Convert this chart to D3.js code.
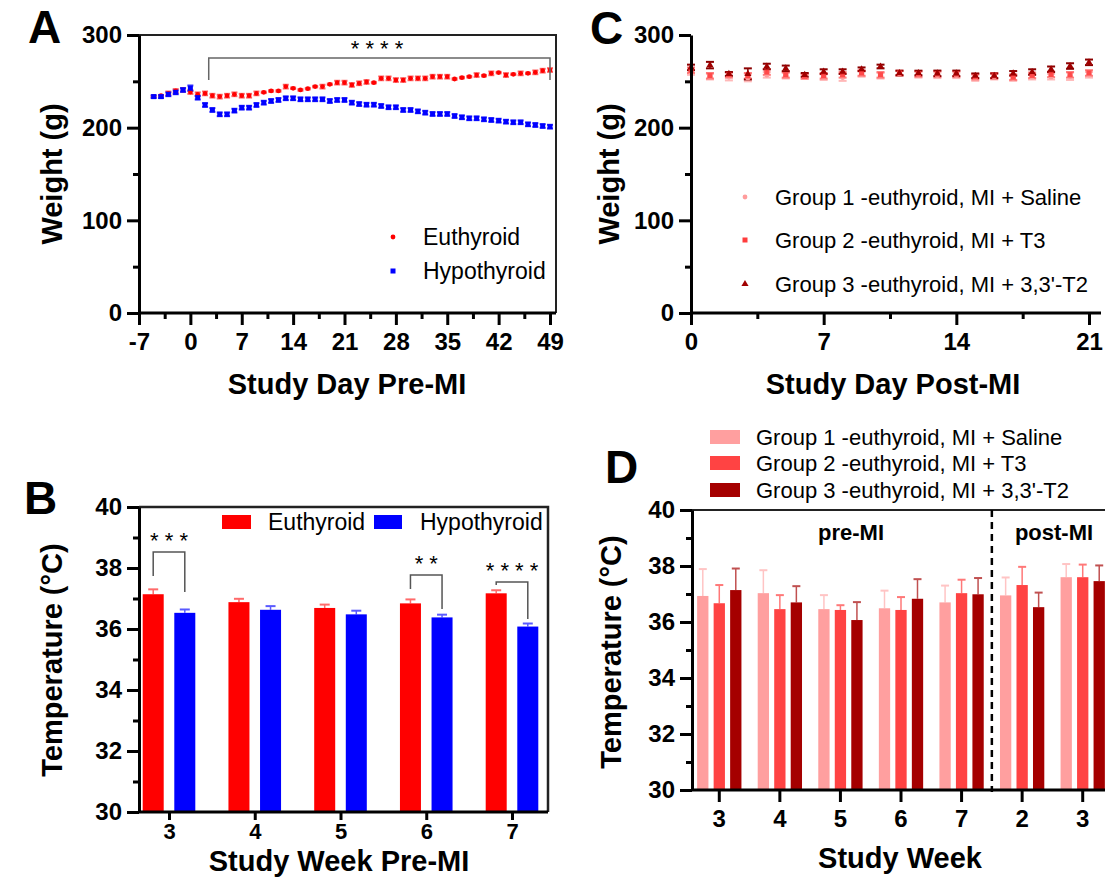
<!DOCTYPE html>
<html>
<head>
<meta charset="utf-8">
<script src="https://cdn.jsdelivr.net/npm/d3@7"></script>
<style>
  body { margin: 0; background: #fff; }
  svg { font-family: Arial, "Liberation Sans", sans-serif; }
</style>
</head>
<body>
<svg width="1105" height="878"></svg>
<script>
// ---- panel A: weight pre-MI ----
const daysPre = [-5,-4,-3,-2,-1,0,1,2,3,4,5,6,7,8,9,10,11,12,13,14,15,16,17,18,19,20,21,22,23,24,
  25,26,27,28,29,30,31,32,33,34,35,36,37,38,39,40,41,42,43,44,45,46,47,48,49];
const euthyroidWeight = [233.5,234.5,237,239.6,240.7,238.5,236,237,234.5,233.5,234.5,236,234.5,234.5,237,
  238.1,239.6,239.6,244.3,242.5,240.7,242.1,244.3,244.3,246.8,248.6,248.6,246.1,247.9,249.3,248.6,253.2,
  253.2,251.4,251.4,253.2,253.2,253.2,255,255,255,252.5,254,255,256.8,256.1,258.6,259.4,256.8,257.6,
  258.6,258.6,259.7,261.5,262.2];
const euthyroidSem = [0.8,0.8,2,2,2,2,2,2,2,2,2,2,2,2,2,0.8,0.8,0.8,2,0.8,0.8,0.8,0.8,2,0.8,2,2,2,2,2,
  0.8,2,2,2,2,2,2,2,2,2,2,0.8,0.8,0.8,2,0.8,2,0.8,2,0.8,2,0.8,2,2,2];
const hypothyroidWeight = [233.5,233.5,236,238.1,240.7,242.5,232.4,224.5,219.1,214.4,214.4,218.4,221.6,
  221.6,224.5,227,228.8,229.9,231.7,231.7,230.6,230.6,230.6,230.6,228.8,229.9,229.9,227,225.5,224.8,
  224.8,223.4,222,222,219.1,219.1,217.6,216.2,214.8,214.8,214.8,212.6,211.2,210.1,210.1,209,208.3,
  207.6,206.5,205.8,205.8,203.6,202.9,201.8,201.1];
const hypothyroidSem = [1.5,1.5,2,2,2,3,2,2,2,2,2,2,2,2,2,2,2,2,2,2,2,2,2,2,2,2,2,2,2,2,2,2,2,2,2,2,
  2,2,2,2,2,2,2,2,2,2,2,2,2,2,2,2,2,2,2];

// ---- panel C: weight post-MI ----
const daysPost = [0,1,2,3,4,5,6,7,8,9,10,11,12,13,14,15,16,17,18,19,20,21];
const group1Weight = [260,255,255,254,257,256,255,254.5,254.5,258,256,258.5,257,256.5,256.5,253.5,255,253.5,255,255,255.5,257];
const group2Weight = [262,256,257,256,260,257,255.5,256,257,259,257,259,258,258,258,255,256,254.5,256.5,257.5,257,259];
const group3Weight = [265,267.5,258,258,266,264,257,260.5,260.5,263,266,259,259,258.6,258.6,256,256,258.6,260,263,266.5,270.5];
const group1WeightSem = [3,3,4,4,3,3,2.5,3,4,3,3,2.5,3,3,3,3,3,3,3,3,4,3];
const group2WeightSem = [3,3,3,3,3,3,2.5,3,3,3,3,2.5,3,3,3,3,3,3,3,3,3,3];
const group3WeightSem = [3,3.5,2,6,3,3,2,2.5,2.5,2,2,2.5,2.5,3,3,2.5,2.5,2.5,3,3,3,3];

// ---- panel B: temperature pre-MI ----
const weeksB = ["3","4","5","6","7"];
const euthyroidTemp = [37.14,36.88,36.69,36.84,37.17];
const euthyroidTempSem = [0.16,0.11,0.11,0.13,0.10];
const hypothyroidTemp = [36.53,36.63,36.48,36.38,36.08];
const hypothyroidTempSem = [0.11,0.12,0.12,0.09,0.10];

// ---- panel D: temperature by group ----
const weeksD = ["3","4","5","6","7","2","3"];
const group1Temp = [36.93,37.03,36.46,36.49,36.70,36.95,37.60];
const group2Temp = [36.67,36.46,36.43,36.43,37.03,37.32,37.60];
const group3Temp = [37.14,36.70,36.07,36.83,36.99,36.53,37.46];
const group1TempSem = [0.96,0.82,0.50,0.63,0.60,0.64,0.47];
const group2TempSem = [0.65,0.50,0.17,0.46,0.48,0.65,0.45];
const group3TempSem = [0.77,0.58,0.64,0.70,0.58,0.52,0.56];

const groupNames = ["Group 1 -euthyroid, MI + Saline", "Group 2 -euthyroid, MI + T3", "Group 3 -euthyroid, MI + 3,3'-T2"];

let svg = d3.select('svg');
const FONT = 'Arial, "Liberation Sans", sans-serif';

function styleAxis(g, size) {
  g.attr("font-family", FONT)
   .attr("font-size", size || 24)
   .attr("font-weight", "bold");
  g.selectAll("path.domain").attr("stroke", "#000").attr("stroke-width", 3);
  g.selectAll(".tick line").attr("stroke", "#000").attr("stroke-width", 3);
  g.selectAll(".tick text").attr("fill", "#000");
}

function axisTitle(text, x, y, rotate) {
  svg.append("text")
     .attr("transform", "translate(" + x + "," + y + ")" + (rotate ? " rotate(-90)" : ""))
     .attr("text-anchor", "middle")
     .attr("font-family", FONT)
     .attr("font-size", 29)
     .attr("font-weight", "bold")
     .text(text);
}

function panelLetter(text, x, y) {
  svg.append("text")
     .attr("x", x).attr("y", y)
     .attr("font-family", FONT)
     .attr("font-size", 46)
     .attr("font-weight", "bold")
     .text(text);
}

function errorBars(g, xs, ys, sems, xScale, yScale, color, capW, upOnly) {
  xs.forEach((d, i) => {
    let x = xScale(d);
    let top = yScale(ys[i] + sems[i]);
    let bot = upOnly ? yScale(ys[i]) : yScale(ys[i] - sems[i]);
    g.append("line").attr("x1", x).attr("x2", x).attr("y1", top).attr("y2", bot)
     .attr("stroke", color).attr("stroke-width", 1.5);
    g.append("line").attr("x1", x - capW / 2).attr("x2", x + capW / 2).attr("y1", top).attr("y2", top)
     .attr("stroke", color).attr("stroke-width", 2);
    if (!upOnly) {
      g.append("line").attr("x1", x - capW / 2).attr("x2", x + capW / 2).attr("y1", bot).attr("y2", bot)
       .attr("stroke", color).attr("stroke-width", 2);
    }
  });
}

function drawPanelA() {
  let xScale = d3.scaleLinear().domain([-7, 49]).range([139, 550]);
  let yScale = d3.scaleLinear().domain([0, 300]).range([313, 35]);

  // frame
  svg.append("path")
     .attr("d", "M139,35 H556 V313")
     .attr("fill", "none").attr("stroke", "#222").attr("stroke-width", 2);

  let g = svg.append("g");
  errorBars(g, daysPre, euthyroidWeight, euthyroidSem, xScale, yScale, "#ff6060", 6, false);
  errorBars(g, daysPre, hypothyroidWeight, hypothyroidSem, xScale, yScale, "#3030ff", 6, false);

  g.selectAll(".eu").data(daysPre).enter().append("circle")
   .attr("cx", d => xScale(d))
   .attr("cy", (d, i) => yScale(euthyroidWeight[i]))
   .attr("r", 2.4).attr("fill", "#ff0000");
  g.selectAll(".hy").data(daysPre).enter().append("rect")
   .attr("x", d => xScale(d) - 2.5)
   .attr("y", (d, i) => yScale(hypothyroidWeight[i]) - 2.5)
   .attr("width", 5).attr("height", 5).attr("fill", "#0000ff");

  // axes
  let yAxis = svg.append("g").attr("transform", "translate(139,0)")
     .call(d3.axisLeft(yScale).tickValues([0, 100, 200, 300]).tickSize(12).tickSizeOuter(0).tickPadding(5));
  styleAxis(yAxis);
  let yMinor = svg.append("g").attr("transform", "translate(139,0)")
     .call(d3.axisLeft(yScale).tickValues([50, 150, 250]).tickSize(6).tickFormat(""));
  styleAxis(yMinor);
  yMinor.select("path.domain").remove();

  let xAxis = svg.append("g").attr("transform", "translate(0,313)")
     .call(d3.axisBottom(xScale).tickValues([-7, 0, 7, 14, 21, 28, 35, 42, 49])
       .tickFormat(d => String(d)).tickSize(12).tickSizeOuter(0).tickPadding(8));
  styleAxis(xAxis);
  xAxis.select("path.domain").attr("d", "M139,0H556");
  let xMinor = svg.append("g").attr("transform", "translate(0,313)")
     .call(d3.axisBottom(xScale).tickValues([-3.5, 3.5, 10.5, 17.5, 24.5, 31.5, 38.5, 45.5]).tickSize(6).tickFormat(""));
  styleAxis(xMinor);
  xMinor.select("path.domain").remove();

  // significance bracket
  svg.append("path")
     .attr("d", "M" + xScale(2.5) + ",80 V58 H" + xScale(49) + " V80")
     .attr("fill", "none").attr("stroke", "#666").attr("stroke-width", 1.5);
  svg.append("text").attr("x", 377).attr("y", 56).attr("text-anchor", "middle")
     .attr("font-family", FONT).attr("font-size", 22).text("* * * *");

  // legend
  svg.append("circle").attr("cx", 393).attr("cy", 237).attr("r", 2.4).attr("fill", "#ff0000");
  svg.append("rect").attr("x", 390.5).attr("y", 268.5).attr("width", 5).attr("height", 5).attr("fill", "#0000ff");
  svg.append("text").attr("x", 423).attr("y", 245).attr("font-family", FONT).attr("font-size", 23).text("Euthyroid");
  svg.append("text").attr("x", 423).attr("y", 279).attr("font-family", FONT).attr("font-size", 23).text("Hypothyroid");

  axisTitle("Weight (g)", 62, 174, true);
  axisTitle("Study Day Pre-MI", 347, 394, false);
  panelLetter("A", 28, 43);
}

function drawPanelC() {
  let xScale = d3.scaleLinear().domain([0, 21]).range([691, 1089]);
  let yScale = d3.scaleLinear().domain([0, 300]).range([313, 35]);
  let colors = ["#ff9c9c", "#ff3c3c", "#a00000"];
  let errColors = ["#ffb8b8", "#ff7a7a", "#8b0000"];
  let values = [group1Weight, group2Weight, group3Weight];
  let sems = [group1WeightSem, group2WeightSem, group3WeightSem];

  let g = svg.append("g");
  values.forEach((vals, k) => {
    errorBars(g, daysPost, vals, sems[k], xScale, yScale, errColors[k], 8, false);
  });
  g.selectAll(".g1").data(daysPost).enter().append("circle")
   .attr("cx", d => xScale(d)).attr("cy", (d, i) => yScale(group1Weight[i]))
   .attr("r", 2.6).attr("fill", colors[0]);
  g.selectAll(".g2").data(daysPost).enter().append("rect")
   .attr("x", d => xScale(d) - 2.6).attr("y", (d, i) => yScale(group2Weight[i]) - 2.6)
   .attr("width", 5.2).attr("height", 5.2).attr("fill", colors[1]).attr("opacity", 0.85);
  let tri = d3.symbol().type(d3.symbolTriangle).size(22);
  g.selectAll(".g3").data(daysPost).enter().append("path")
   .attr("d", tri)
   .attr("transform", (d, i) => "translate(" + xScale(d) + "," + yScale(group3Weight[i]) + ")")
   .attr("fill", colors[2]);

  let yAxis = svg.append("g").attr("transform", "translate(691,0)")
     .call(d3.axisLeft(yScale).tickValues([0, 100, 200, 300]).tickSize(12).tickSizeOuter(0).tickPadding(5));
  styleAxis(yAxis);
  let yMinor = svg.append("g").attr("transform", "translate(691,0)")
     .call(d3.axisLeft(yScale).tickValues([50, 150, 250]).tickSize(6).tickFormat(""));
  styleAxis(yMinor);
  yMinor.select("path.domain").remove();

  let xAxis = svg.append("g").attr("transform", "translate(0,313)")
     .call(d3.axisBottom(xScale).tickValues([0, 7, 14, 21]).tickSize(12).tickSizeOuter(0).tickPadding(8));
  styleAxis(xAxis);
  xAxis.select("path.domain").attr("d", "M691,0H1101");
  let xMinor = svg.append("g").attr("transform", "translate(0,313)")
     .call(d3.axisBottom(xScale).tickValues([3.5, 10.5, 17.5]).tickSize(6).tickFormat(""));
  styleAxis(xMinor);
  xMinor.select("path.domain").remove();

  // legend
  let ly = [197, 240, 284];
  svg.append("circle").attr("cx", 745).attr("cy", ly[0]).attr("r", 2.4).attr("fill", colors[0]);
  svg.append("rect").attr("x", 742.5).attr("y", ly[1] - 2.5).attr("width", 5).attr("height", 5).attr("fill", colors[1]);
  svg.append("path").attr("d", tri).attr("transform", "translate(745," + ly[2] + ")").attr("fill", colors[2]);
  groupNames.forEach((name, i) => {
    svg.append("text").attr("x", 775).attr("y", ly[i] + 8)
       .attr("font-family", FONT).attr("font-size", 22).text(name);
  });

  axisTitle("Weight (g)", 619, 174, true);
  axisTitle("Study Day Post-MI", 893, 394, false);
  panelLetter("C", 590, 44);
}

function drawPanelB() {
  let xScale = d3.scalePoint().domain(weeksB).range([169, 512]);
  let inner = d3.scaleBand().domain(["eu", "hy"]).range([-26.3, 26.3]).paddingInner(0.335).paddingOuter(0);
  let yScale = d3.scaleLinear().domain([30, 40]).range([812, 507]);
  let bw = inner.bandwidth();

  svg.append("path")
     .attr("d", "M139,507 H548 V812")
     .attr("fill", "none").attr("stroke", "#222").attr("stroke-width", 2.5);

  let series = [
    { key: "eu", vals: euthyroidTemp, sem: euthyroidTempSem, color: "#ff0000", err: "#ff6a6a" },
    { key: "hy", vals: hypothyroidTemp, sem: hypothyroidTempSem, color: "#0000ff", err: "#5a5aff" }
  ];
  series.forEach(s => {
    let g = svg.append("g");
    let centers = weeksB.map(w => xScale(w) + inner(s.key) + bw / 2);
    errorBars(g, centers, s.vals, s.sem, d => d, yScale, s.err, 10, true);
    g.selectAll("rect").data(weeksB).enter().append("rect")
     .attr("x", d => xScale(d) + inner(s.key))
     .attr("y", (d, i) => yScale(s.vals[i]))
     .attr("width", bw)
     .attr("height", (d, i) => yScale(30) - yScale(s.vals[i]))
     .attr("fill", s.color);
  });

  let yAxis = svg.append("g").attr("transform", "translate(139,0)")
     .call(d3.axisLeft(yScale).tickValues([30, 32, 34, 36, 38, 40]).tickSize(12).tickSizeOuter(0).tickPadding(5));
  styleAxis(yAxis);
  let yMinor = svg.append("g").attr("transform", "translate(139,0)")
     .call(d3.axisLeft(yScale).tickValues([31, 33, 35, 37, 39]).tickSize(6).tickFormat(""));
  styleAxis(yMinor);
  yMinor.select("path.domain").remove();

  let xAxis = svg.append("g").attr("transform", "translate(0,812)")
     .call(d3.axisBottom(xScale).tickSize(8).tickSizeOuter(0).tickPadding(3));
  styleAxis(xAxis, 22);
  xAxis.select("path.domain").attr("d", "M139,0H548");

  // significance brackets
  let brackets = [
    { i: 0, top: 552, l: 576, r: 592, stars: "* * *" },
    { i: 3, top: 575, l: 589, r: 609, stars: "* *" },
    { i: 4, top: 582, l: 585, r: 619, stars: "* * * *" }
  ];
  brackets.forEach(b => {
    let w = weeksB[b.i];
    let x1 = xScale(w) + inner("eu") + bw / 2;
    let x2 = xScale(w) + inner("hy") + bw / 2;
    svg.append("path")
       .attr("d", "M" + x1 + "," + b.l + " V" + b.top + " H" + x2 + " V" + b.r)
       .attr("fill", "none").attr("stroke", "#555").attr("stroke-width", 1.5);
    svg.append("text").attr("x", (x1 + x2) / 2).attr("y", b.top - 4)
       .attr("text-anchor", "middle").attr("font-family", FONT).attr("font-size", 22).text(b.stars);
  });

  // legend
  svg.append("rect").attr("x", 222).attr("y", 515).attr("width", 29).attr("height", 14).attr("fill", "#ff0000");
  svg.append("text").attr("x", 268).attr("y", 530).attr("font-family", FONT).attr("font-size", 23).text("Euthyroid");
  svg.append("rect").attr("x", 374).attr("y", 515).attr("width", 28).attr("height", 14).attr("fill", "#0000ff");
  svg.append("text").attr("x", 420).attr("y", 530).attr("font-family", FONT).attr("font-size", 23).text("Hypothyroid");

  axisTitle("Temperature (°C)", 62, 660, true);
  axisTitle("Study Week Pre-MI", 339, 871, false);
  panelLetter("B", 24, 514);
}

function drawPanelD() {
  let idx = weeksD.map((w, i) => i);
  let xScale = d3.scaleBand().domain(idx).range([689, 1113]).padding(0);
  let inner = d3.scaleBand().domain([0, 1, 2]).range([-22.15, 22.15]).paddingInner(0.315).paddingOuter(0);
  let yScale = d3.scaleLinear().domain([30, 40]).range([790, 510]);
  let bw = inner.bandwidth();
  let colors = ["#ff9f9f", "#ff4343", "#a50000"];
  let errColors = ["#ffc4c4", "#ff7878", "#c05050"];
  let values = [group1Temp, group2Temp, group3Temp];
  let sems = [group1TempSem, group2TempSem, group3TempSem];

  svg.append("path")
     .attr("d", "M692,510 H1105")
     .attr("fill", "none").attr("stroke", "#222").attr("stroke-width", 2);

  values.forEach((vals, k) => {
    let g = svg.append("g");
    let centers = idx.map(i => xScale(i) + xScale.bandwidth() / 2 + inner(k) + bw / 2);
    errorBars(g, centers, vals, sems[k], d => d, yScale, errColors[k], 8, true);
    g.selectAll("rect").data(idx).enter().append("rect")
     .attr("x", i => xScale(i) + xScale.bandwidth() / 2 + inner(k))
     .attr("y", i => yScale(vals[i]))
     .attr("width", bw)
     .attr("height", i => yScale(30) - yScale(vals[i]))
     .attr("fill", colors[k]);
  });

  // pre / post divider
  svg.append("line")
     .attr("x1", xScale(5)).attr("x2", xScale(5))
     .attr("y1", 510).attr("y2", 792)
     .attr("stroke", "#000").attr("stroke-width", 2.5).attr("stroke-dasharray", "7,5");
  svg.append("text").attr("x", 851).attr("y", 540).attr("text-anchor", "middle")
     .attr("font-family", FONT).attr("font-size", 22).attr("font-weight", "bold").text("pre-MI");
  svg.append("text").attr("x", 1054).attr("y", 540).attr("text-anchor", "middle")
     .attr("font-family", FONT).attr("font-size", 22).attr("font-weight", "bold").text("post-MI");

  let yAxis = svg.append("g").attr("transform", "translate(692,0)")
     .call(d3.axisLeft(yScale).tickValues([30, 32, 34, 36, 38, 40]).tickSize(12).tickSizeOuter(0).tickPadding(5));
  styleAxis(yAxis);
  let yMinor = svg.append("g").attr("transform", "translate(692,0)")
     .call(d3.axisLeft(yScale).tickValues([31, 33, 35, 37, 39]).tickSize(6).tickFormat(""));
  styleAxis(yMinor);
  yMinor.select("path.domain").remove();

  let xAxis = svg.append("g").attr("transform", "translate(0,790)")
     .call(d3.axisBottom(xScale).tickFormat(i => weeksD[i]).tickSize(12).tickSizeOuter(0).tickPadding(8));
  styleAxis(xAxis);
  xAxis.select("path.domain").attr("d", "M692,0H1105");

  // legend
  let ly = [437, 463, 490];
  groupNames.forEach((name, i) => {
    svg.append("rect").attr("x", 710).attr("y", ly[i] - 7).attr("width", 30).attr("height", 14).attr("fill", colors[i]);
    svg.append("text").attr("x", 756).attr("y", ly[i] + 8)
       .attr("font-family", FONT).attr("font-size", 22).text(name);
  });

  axisTitle("Temperature (°C)", 621, 652, true);
  axisTitle("Study Week", 900, 868, false);
  panelLetter("D", 605, 483);
}

drawPanelA();
drawPanelC();
drawPanelB();
drawPanelD();
</script>
</body>
</html>
